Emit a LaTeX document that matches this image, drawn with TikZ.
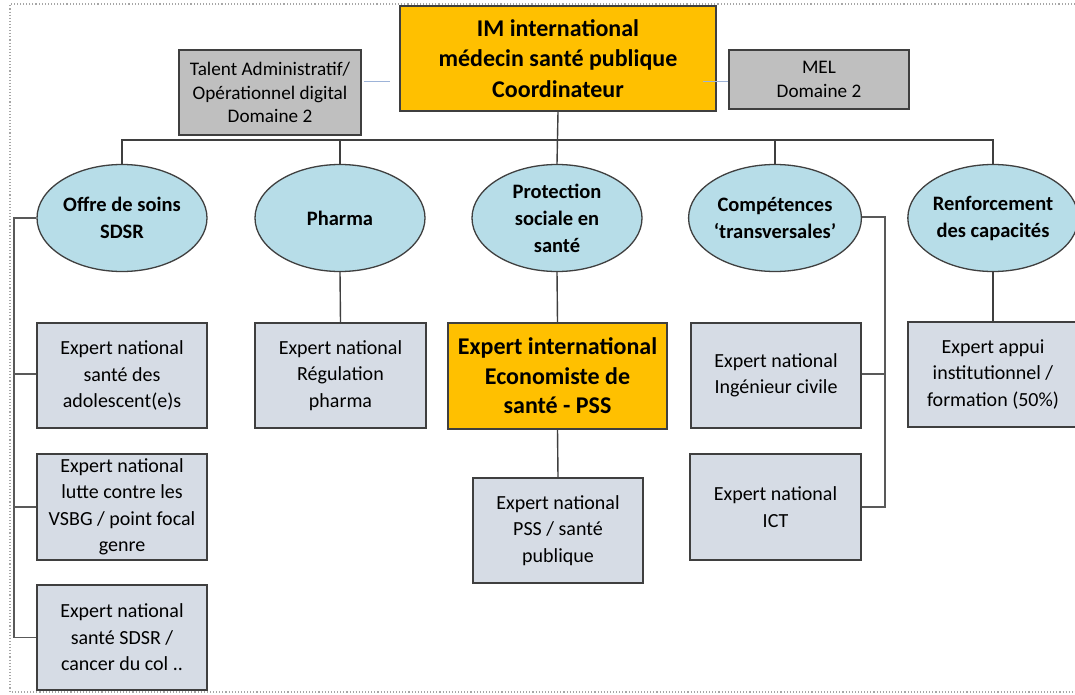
\documentclass[tikz,border=0pt]{standalone}
\usepackage{fontspec}
\setmainfont{Carlito}
\usetikzlibrary{shapes.geometric}

\definecolor{leadorange}{HTML}{FFC000}
\definecolor{supportgray}{HTML}{BFBFBF}
\definecolor{expertblue}{HTML}{D6DCE5}
\definecolor{axisaqua}{HTML}{B7DDE8}
\definecolor{edgegray}{HTML}{3F3F3F}
\definecolor{linkblue}{HTML}{9DB3D8}

\tikzset{
  boxbase/.style={draw=edgegray, line width=1.4pt, rectangle, inner sep=0pt,
    align=center, text=black},
  lead/.style={boxbase, fill=leadorange, font=\bfseries\fontsize{24}{30.5}\selectfont},
  support/.style={boxbase, fill=supportgray, font=\fontsize{19.2}{23.5}\selectfont},
  expert/.style={boxbase, fill=expertblue, minimum width=170, minimum height=105,
    font=\fontsize{20}{26.5}\selectfont},
  axis/.style={draw=edgegray, line width=1.3pt, ellipse, inner sep=0pt,
    fill=axisaqua, minimum width=170, minimum height=107, align=center,
    font=\bfseries\fontsize{20.5}{27}\selectfont},
  wire/.style={draw=edgegray, line width=1.4pt},
  sidewire/.style={draw=black!65, line width=1.8pt},
  linkline/.style={draw=linkblue, line width=0.8pt},
  framedots/.style={draw=black!35, line width=1.1pt, dotted}
}

\begin{document}
\begin{tikzpicture}[x=1pt, y=-1pt]
  \clip (0,0) rectangle (1075,695);
  \fill[white] (0,0) rectangle (1075,695);

  % dotted page frame
  \draw[framedots] (1075,4) -- (10,4) -- (10,692) -- (1075,692);

  % coordination level
  \node[lead, minimum width=316, minimum height=105] (top) at (558,58.5)
    {IM international\\médecin santé publique\\Coordinateur};
  \node[support, minimum width=182, minimum height=85] (admin) at (270,92.5)
    {Talent Administratif/\\Opérationnel digital\\Domaine 2};
  \node[support, minimum width=180, minimum height=59] (mel) at (819,79.5)
    {MEL\\Domaine 2};

  % thematic axes
  \node[axis] (e1) at (122,218) {Offre de soins\\SDSR};
  \node[axis] (e2) at (340,218) {Pharma};
  \node[axis] (e3) at (557,218) {Protection\\sociale en\\santé};
  \node[axis] (e4) at (775,218) {Compétences\\‘transversales’};
  \node[axis] (e5) at (993,218) {Renforcement\\des capacités};

  % experts
  \node[expert] (b11) at (122,375.5) {Expert national\\santé des\\adolescent(e)s};
  \node[expert, minimum height=106] (b12) at (122,507)
    {Expert national\\lutte contre les\\VSBG / point focal\\genre};
  \node[expert] (b13) at (122,637.5) {Expert national\\santé SDSR /\\cancer du col ..};
  \node[expert, minimum width=171] (b2) at (340.5,375.5)
    {Expert national\\Régulation\\pharma};
  \node[lead, minimum width=219, minimum height=106,
    font=\bfseries\fontsize{24}{29.5}\selectfont] (o2) at (557.5,376)
    {Expert international\\Economiste de\\santé - PSS};
  \node[expert] (pss) at (558,530.5) {Expert national\\PSS / santé\\publique};
  \node[expert] (ing) at (776,375.5) {Expert national\\Ingénieur civile};
  \node[expert, minimum width=171, minimum height=106] (ict) at (775.5,507)
    {Expert national\\ICT};
  \node[expert] (b5) at (993,374.5)
    {Expert appui\\institutionnel /\\formation (50\%)};

  % links to the support posts
  \coordinate (lk) at (0,81);
  \draw[linkline, shorten <=2pt, shorten >=9pt] (admin.east |- lk) -- (top.west |- lk);
  \draw[linkline, shorten <=-14pt] (top.east |- lk) -- (mel.west |- lk);

  % main bus
  \coordinate (bus) at (0,140);
  \draw[wire] (e1.north) |- (e5.north |- bus) -- (e5.north);
  \draw[wire] (top.south) -- (e3.north);
  \draw[wire] (e2.north) -- (e2.north |- bus);
  \draw[wire] (e4.north) -- (e4.north |- bus);

  % vertical links below the axes
  \draw[wire] (e2.south) -- (b2.north);
  \draw[wire] (e3.south) -- (o2.north);
  \draw[wire] (o2.south) -- (pss.north);
  \draw[wire] (e5.south) -- (b5.north);

  % side spine of the first axis
  \coordinate (spineL) at (14,0);
  \draw[sidewire] (e1.west) -- (e1.west -| spineL) |- (b13.west);
  \draw[sidewire] ([yshift=1.5]b11.west) -- ([yshift=1.5]b11.west -| spineL);
  \draw[sidewire] (b12.west) -- (b12.west -| spineL);

  % side spine of the transversal axis
  \coordinate (spineR) at (885,0);
  \draw[sidewire] ([yshift=1]e4.east) -- ([yshift=1]e4.east -| spineR) |- (ict.east);
  \draw[sidewire] ([yshift=1.5]ing.east) -- ([yshift=1.5]ing.east -| spineR);
\end{tikzpicture}
\end{document}
